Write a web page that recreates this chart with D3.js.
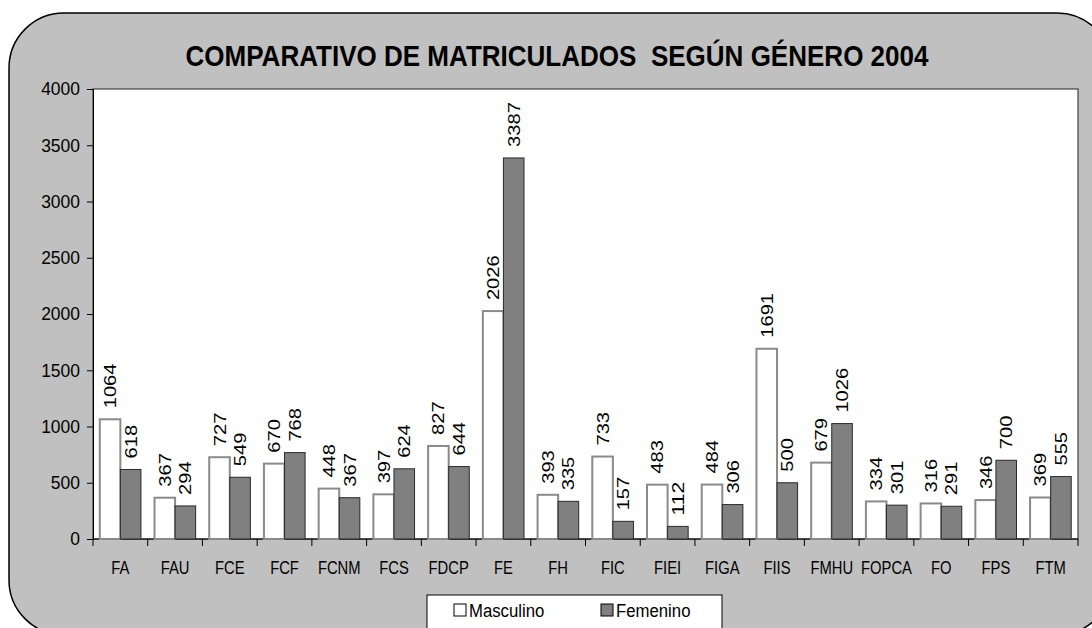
<!doctype html>
<html>
<head>
  <meta charset="utf-8">
  <title>Comparativo de matriculados</title>
  <style>
    html, body { margin: 0; padding: 0; background: #fff; }
    svg { display: block; }
    text { font-family: "Liberation Sans", Arial, sans-serif; fill: #000; }
  </style>
</head>
<body>
  <script src="https://d3js.org/d3.v7.min.js"></script>
  <script>
    // data
    const faculties = ["FA", "FAU", "FCE", "FCF", "FCNM", "FCS", "FDCP", "FE", "FH",
      "FIC", "FIEI", "FIGA", "FIIS", "FMHU", "FOPCA", "FO", "FPS", "FTM"];
    const masculino = [1064, 367, 727, 670, 448, 397, 827, 2026, 393,
      733, 483, 484, 1691, 679, 334, 316, 346, 369];
    const femenino = [618, 294, 549, 768, 367, 624, 644, 3387, 335,
      157, 112, 306, 500, 1026, 301, 291, 700, 555];
    const yTicks = [0, 500, 1000, 1500, 2000, 2500, 3000, 3500, 4000];
    const seriesNames = ["Masculino", "Femenino"];

    const width = 1092, height = 628;
    const plot = { left: 93, top: 89, right: 1078, bottom: 539 };

    const svg = d3.select("body").append("svg")
        .attr("width", width)
        .attr("height", height);

    // squeeze text a bit, the original uses a narrow face
    function narrow(sel, k) {
      sel.each(function () {
        const w = this.getComputedTextLength();
        d3.select(this).attr("textLength", w * k).attr("lengthAdjust", "spacingAndGlyphs");
      });
    }

    // gray rounded chart area
    svg.append("rect")
        .attr("x", 9).attr("y", 13)
        .attr("width", 1103).attr("height", 622)
        .attr("rx", 55).attr("ry", 55)
        .style("fill", "#c0c0c0")
        .style("stroke", "#000")
        .style("stroke-width", 1.5);

    // title
    svg.append("text")
        .attr("x", 557).attr("y", 66)
        .attr("text-anchor", "middle")
        .attr("textLength", 743)
        .attr("lengthAdjust", "spacingAndGlyphs")
        .style("white-space", "pre")
        .style("font-weight", "bold")
        .style("font-size", "30px")
        .text("COMPARATIVO DE MATRICULADOS  SEGÚN GÉNERO 2004");

    // plot area
    svg.append("rect")
        .attr("x", plot.left).attr("y", plot.top)
        .attr("width", plot.right - plot.left)
        .attr("height", plot.bottom - plot.top)
        .style("fill", "#fff")
        .style("stroke", "#222")
        .style("stroke-width", 1);

    const x = d3.scaleBand()
        .domain(faculties)
        .range([plot.left, plot.right]);

    const xs = d3.scaleBand()
        .domain(seriesNames)
        .range([0, x.bandwidth()])
        .paddingOuter(0.33)
        .paddingInner(0);

    const y = d3.scaleLinear()
        .domain([0, 4000])
        .range([plot.bottom, plot.top]);

    // y axis
    const yAxis = svg.append("g")
        .attr("transform", `translate(${plot.left},0)`)
        .call(d3.axisLeft(y).tickValues(yTicks).tickSize(6).tickPadding(7).tickFormat(d3.format("d")));
    yAxis.select(".domain").style("stroke", "#000");
    yAxis.selectAll("text")
        .style("font-size", "18px")
        .style("font-family", "'Liberation Sans', Arial, sans-serif")
        .call(narrow, 0.97);

    // x axis: ticks at category boundaries
    const xAxis = svg.append("g")
        .attr("transform", `translate(0,${plot.bottom})`);
    xAxis.append("line")
        .attr("x1", plot.left).attr("x2", plot.right)
        .style("stroke", "#000");
    const bounds = faculties.map(f => x(f)).concat([plot.right]);
    xAxis.selectAll("line.tick")
      .data(bounds)
      .join("line")
        .attr("class", "tick")
        .attr("x1", d => d).attr("x2", d => d)
        .attr("y1", 0).attr("y2", 7)
        .style("stroke", "#000");
    xAxis.selectAll("text")
      .data(faculties)
      .join("text")
        .attr("x", d => x(d) + x.bandwidth() / 2)
        .attr("y", 35)
        .attr("text-anchor", "middle")
        .style("font-size", "18px")
        .text(d => d)
        .call(narrow, 0.82);

    const rows = faculties.map((f, i) => ({ f, vals: [masculino[i], femenino[i]] }));

    const groups = svg.selectAll("g.grp")
      .data(rows)
      .join("g")
        .attr("class", "grp")
        .attr("transform", d => `translate(${x(d.f)},0)`);

    groups.selectAll("rect")
      .data(d => d.vals.map((v, k) => ({ v, s: seriesNames[k] })))
      .join("rect")
        .attr("x", d => xs(d.s))
        .attr("y", d => y(d.v))
        .attr("width", xs.bandwidth())
        .attr("height", d => y(0) - y(d.v))
        .style("fill", d => d.s === "Masculino" ? "#fff" : "#808080")
        .style("stroke", d => d.s === "Masculino" ? "#8a8a8a" : "#2a2a2a")
        .style("stroke-width", d => d.s === "Masculino" ? 2 : 1);

    // rotated value labels
    groups.selectAll("text")
      .data(d => d.vals.map((v, k) => ({ v, s: seriesNames[k] })))
      .join("text")
        .attr("transform", d => `translate(${xs(d.s) + xs.bandwidth() / 2 + 6},${y(d.v) - 11}) rotate(-90)`)
        .attr("textLength", d => String(d.v).length * 11.2)
        .attr("lengthAdjust", "spacingAndGlyphs")
        .style("font-size", "17px")
        .text(d => d.v);

    // legend
    const legend = svg.append("g");
    legend.append("rect")
        .attr("x", 427).attr("y", 595)
        .attr("width", 295).attr("height", 45)
        .style("fill", "#fff")
        .style("stroke", "#000")
        .style("stroke-width", 1);
    const legX = [454, 601];
    seriesNames.forEach((s, k) => {
      legend.append("rect")
          .attr("x", legX[k]).attr("y", 604)
          .attr("width", 12).attr("height", 12)
          .style("fill", k === 0 ? "#fff" : "#808080")
          .style("stroke", "#000")
          .style("stroke-width", 1);
      legend.append("text")
          .attr("x", legX[k] + 15).attr("y", 617)
          .style("font-size", "18px")
          .text(s)
          .call(narrow, 0.93);
    });
  </script>
</body>
</html>
